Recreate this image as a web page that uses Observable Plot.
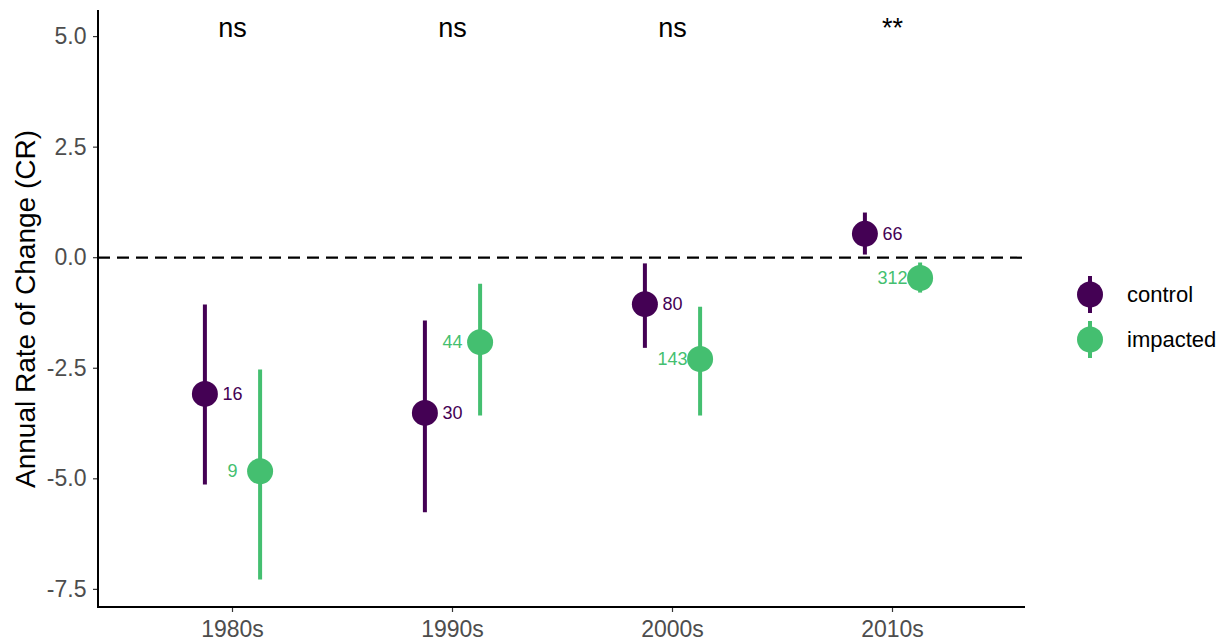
<!DOCTYPE html>
<html>
<head>
<meta charset="utf-8">
<script src="https://cdn.jsdelivr.net/npm/d3@7"></script>
<script src="https://cdn.jsdelivr.net/npm/@observablehq/plot@0.6"></script>
<style>
  html, body { margin: 0; padding: 0; background: #fff; }
  body { font-family: "Liberation Sans", Arial, sans-serif; }
  #wrap { position: relative; width: 1232px; height: 641px; }
  #legend { position: absolute; left: 1064px; top: 272px; }
  .item { display: flex; align-items: center; height: 45px; }
  .item span { font-size: 22px; color: #000; margin-left: 11px; }
</style>
</head>
<body>
<div id="wrap"><div id="chart"></div><div id="legend"></div></div>
<script>
// Decades and treatment groups
const decades = ["1980s", "1990s", "2000s", "2010s"];
const groups = ["control", "impacted"];
const groupColors = ["#440154", "#44BF70"];

// Mean annual rate of change with lower / upper interval bounds, and sample sizes
const controlMean = [-3.08, -3.51, -1.05, 0.54];
const controlLow = [-5.14, -5.77, -2.05, 0.06];
const controlHigh = [-1.07, -1.43, -0.14, 1.01];
const controlN = [16, 30, 80, 66];

const impactedMean = [-4.83, -1.91, -2.29, -0.46];
const impactedLow = [-7.29, -3.58, -3.58, -0.80];
const impactedHigh = [-2.54, -0.60, -1.12, -0.12];
const impactedN = [9, 44, 143, 312];

// Significance of the control vs impacted difference per decade
const significance = ["ns", "ns", "ns", "**"];
const sigLevel = 5.0;

const yTicks = [-7.5, -5.0, -2.5, 0.0, 2.5, 5.0];
const yDomain = [-7.91, 5.59];

const rows = (mean, low, high, n, group) =>
  decades.map((d, i) => ({decade: d, group, mean: mean[i], low: low[i], high: high[i], n: n[i]}));
const control = rows(controlMean, controlLow, controlHigh, controlN, "control");
const impacted = rows(impactedMean, impactedLow, impactedHigh, impactedN, "impacted");
const sigRows = decades.map((d, i) => ({decade: d, label: significance[i]}));

const font = "Liberation Sans, Arial, sans-serif";
const dodge = 27.6;

// left and bottom axis lines
const axisLines = (index, scales, values, dim) => {
  const g = d3.create("svg:g");
  const x0 = dim.marginLeft, x1 = dim.width - dim.marginRight;
  const y0 = dim.marginTop, y1 = dim.height - dim.marginBottom;
  g.append("line").attr("x1", x0).attr("x2", x0).attr("y1", y0).attr("y2", y1 + 1)
    .attr("stroke", "#000").attr("stroke-width", 2);
  g.append("line").attr("x1", x0 - 1).attr("x2", x1).attr("y1", y1).attr("y2", y1)
    .attr("stroke", "#000").attr("stroke-width", 2);
  return g.node();
};

const groupMarks = (data, color, dx) => [
  Plot.ruleX(data, {x: "decade", y1: "low", y2: "high", stroke: color, strokeWidth: 4, dx}),
  Plot.dot(data, {x: "decade", y: "mean", r: 13, fill: color, stroke: "none", dx})
];

const chart = Plot.plot({
  width: 1232,
  height: 641,
  marginLeft: 98,
  marginRight: 207,
  marginTop: 10,
  marginBottom: 34,
  style: {fontFamily: font, background: "#fff", overflow: "visible"},
  x: {type: "point", domain: decades, padding: 0.6, label: null},
  y: {domain: yDomain, label: null},
  marks: [
    Plot.axisY(yTicks, {tickSize: 5, tickPadding: 7, fontSize: 23, fill: "#4d4d4d", stroke: "#333", strokeWidth: 1.2, tickFormat: d => d.toFixed(1), label: null}),
    Plot.axisX({tickSize: 5, tickPadding: 8, fontSize: 23, fill: "#4d4d4d", stroke: "#333", strokeWidth: 1.2, label: null}),
    Plot.ruleY([0], {stroke: "#000", strokeWidth: 2.2, strokeDasharray: "12,7"}),
    ...groupMarks(control, groupColors[0], -dodge),
    ...groupMarks(impacted, groupColors[1], dodge),
    Plot.text(control, {x: "decade", y: "mean", text: d => String(d.n), fill: groupColors[0], fontSize: 18}),
    Plot.text(impacted, {x: "decade", y: "mean", text: d => String(d.n), fill: groupColors[1], fontSize: 18}),
    Plot.text(sigRows, {x: "decade", y: () => sigLevel, text: "label", fontSize: 27, fill: "#000", lineAnchor: "bottom"}),
    Plot.text(["Annual Rate of Change (CR)"], {frameAnchor: "left", textAnchor: "middle", rotate: -90, dx: -72, fontSize: 28, fill: "#000"}),
    axisLines
  ]
});
document.getElementById("chart").appendChild(chart);

// legend: key glyph (interval line + dot) and group name
const legend = d3.select("#legend");
groups.forEach((g, i) => {
  const item = legend.append("div").attr("class", "item");
  const svg = item.append("svg").attr("width", 52).attr("height", 45);
  svg.append("line").attr("x1", 26).attr("x2", 26).attr("y1", 4).attr("y2", 41)
    .attr("stroke", groupColors[i]).attr("stroke-width", 4);
  svg.append("circle").attr("cx", 26).attr("cy", 22.5).attr("r", 13).attr("fill", groupColors[i]);
  item.append("span").text(g);
});
</script>
</body>
</html>
